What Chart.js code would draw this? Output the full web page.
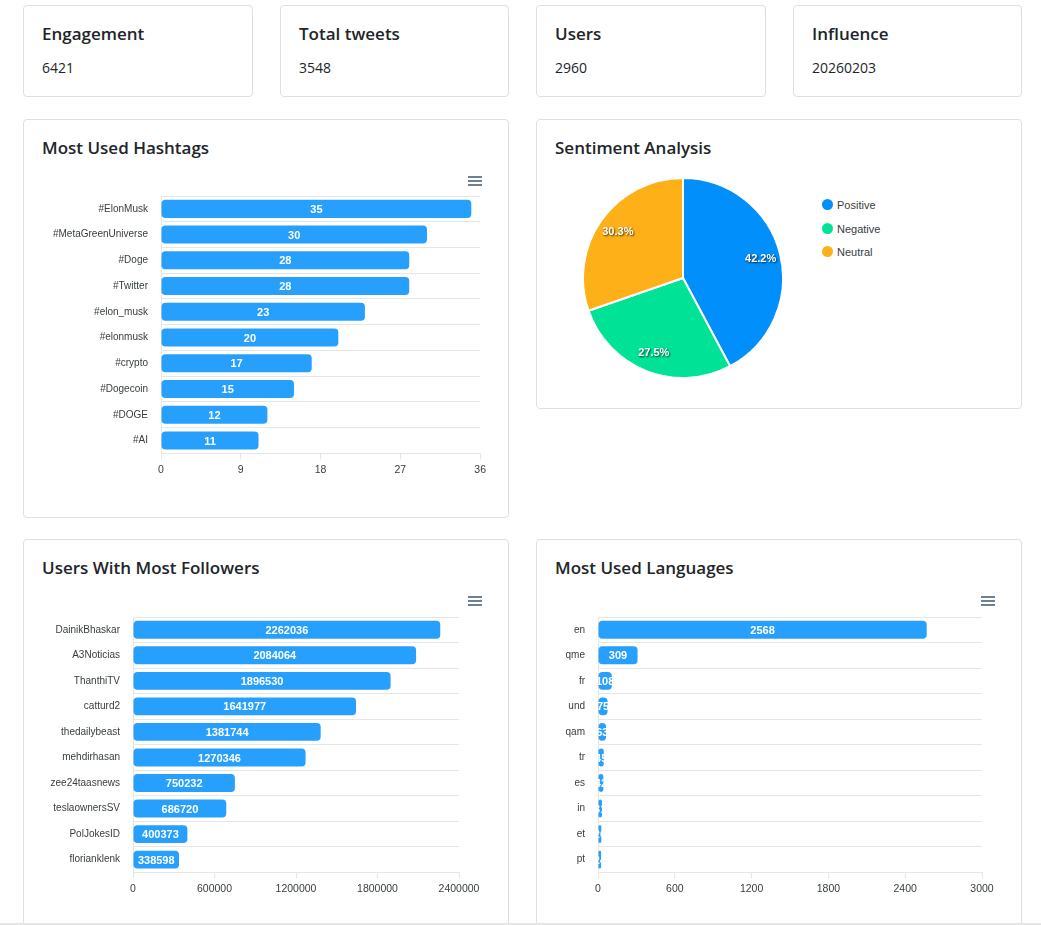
<!DOCTYPE html>
<html>
<head>
<meta charset="utf-8">
<script src="https://cdn.jsdelivr.net/npm/chart.js@4.4.1/dist/chart.umd.min.js"></script>
<style>
    body { margin: 0; background: #fff; font-family: "Open Sans", sans-serif; color: #212529; }
    .page { position: relative; width: 1041px; height: 925px; overflow: hidden; }
    .card { position: absolute; border: 1px solid #dfdfdf; border-radius: 4px; box-sizing: border-box; }
    .ttl { position: absolute; left: 18px; top: 16px; font-size: 17px; font-weight: 600; line-height: 24px; white-space: nowrap; }
    .val { position: absolute; left: 18px; top: 52px; font-size: 14px; line-height: 20px; }
    .box { position: absolute; }
    .menu { position: absolute; width: 14px; height: 10px; }
    .menu i { display: block; height: 2px; background: #6e8192; margin-bottom: 2px; }
    .legend { position: absolute; left: 822px; top: 199px; font: 11px "Liberation Sans", Arial, sans-serif; color: #373d3f; }
    .legend div { height: 23.5px; display: flex; align-items: flex-start; }
    .legend span { display: inline-block; width: 11px; height: 11px; border-radius: 50%; margin-right: 4px; margin-top: 0px; }
    .bottomline { position: absolute; left: 0; top: 923px; width: 1041px; height: 2px; background: #e6e6e6; }
</style>
</head>
<body>
<div class="page">
    <div class="card" style="left:23px;top:5px;width:230px;height:92px"><div class="ttl">Engagement</div><div class="val">6421</div></div>
    <div class="card" style="left:280px;top:5px;width:229px;height:92px"><div class="ttl">Total tweets</div><div class="val">3548</div></div>
    <div class="card" style="left:536px;top:5px;width:230px;height:92px"><div class="ttl">Users</div><div class="val">2960</div></div>
    <div class="card" style="left:793px;top:5px;width:229px;height:92px"><div class="ttl">Influence</div><div class="val">20260203</div></div>

    <div class="card" style="left:23px;top:119px;width:486px;height:399px"><div class="ttl">Most Used Hashtags</div></div>
    <div class="card" style="left:536px;top:119px;width:486px;height:290px"><div class="ttl">Sentiment Analysis</div></div>
    <div class="card" style="left:23px;top:539px;width:486px;height:400px"><div class="ttl">Users With Most Followers</div></div>
    <div class="card" style="left:536px;top:539px;width:486px;height:400px"><div class="ttl">Most Used Languages</div></div>

    <div class="menu" style="left:468px;top:176px"><i></i><i></i><i></i></div>
    <div class="menu" style="left:468px;top:596px"><i></i><i></i><i></i></div>
    <div class="menu" style="left:981px;top:596px"><i></i><i></i><i></i></div>

    <div class="box" style="left:42px;top:177px;width:448px;height:303px"><canvas id="hashtagChart"></canvas></div>
    <div class="box" style="left:582px;top:177px;width:202px;height:202px"><canvas id="sentimentChart"></canvas></div>
    <div class="legend" id="sentimentLegend"></div>
    <div class="box" style="left:42px;top:598px;width:448px;height:301px"><canvas id="followersChart"></canvas></div>
    <div class="box" style="left:555px;top:598px;width:446px;height:301px"><canvas id="languagesChart"></canvas></div>
    <div class="bottomline"></div>
</div>
<script>
// ===== DATA =====
const hashtagLabels = ['#ElonMusk', '#MetaGreenUniverse', '#Doge', '#Twitter', '#elon_musk', '#elonmusk', '#crypto', '#Dogecoin', '#DOGE', '#AI'];
const hashtagCounts = [35, 30, 28, 28, 23, 20, 17, 15, 12, 11];

const sentimentLabels = ['Positive', 'Negative', 'Neutral'];
const sentimentShares = [42.2, 27.5, 30.3];
const sentimentColors = ['#008FFB', '#00E396', '#FEB019'];

const followerUsers = ['DainikBhaskar', 'A3Noticias', 'ThanthiTV', 'catturd2', 'thedailybeast', 'mehdirhasan', 'zee24taasnews', 'teslaownersSV', 'PolJokesID', 'florianklenk'];
const followerCounts = [2262036, 2084064, 1896530, 1641977, 1381744, 1270346, 750232, 686720, 400373, 338598];

const languageCodes = ['en', 'qme', 'fr', 'und', 'qam', 'tr', 'es', 'in', 'et', 'pt'];
const languageCounts = [2568, 309, 108, 75, 63, 45, 42, 31, 26, 24];

const BAR_COLOR = 'rgba(0, 143, 251, 0.85)';
const TEXT_COLOR = '#373d3f';
const GRID_COLOR = '#e6e6e6';
const FONT = '"Liberation Sans", Arial, sans-serif';

// ===== PLUGINS =====
const barValueLabels = {
    id: 'barValueLabels',
    afterDatasetsDraw(chart) {
        const ctx = chart.ctx;
        const values = chart.data.datasets[0].data;
        ctx.save();
        ctx.fillStyle = '#fff';
        ctx.font = 'bold 11px ' + FONT;
        ctx.textAlign = 'center';
        ctx.textBaseline = 'middle';
        chart.getDatasetMeta(0).data.forEach((bar, i) => {
            ctx.fillText(values[i], (bar.x + bar.base) / 2, bar.y + 1);
        });
        ctx.restore();
    }
};

const pieValueLabels = {
    id: 'pieValueLabels',
    afterDatasetsDraw(chart) {
        const ctx = chart.ctx;
        const values = chart.data.datasets[0].data;
        ctx.save();
        ctx.fillStyle = '#fff';
        ctx.font = 'bold 11px ' + FONT;
        ctx.textAlign = 'center';
        ctx.textBaseline = 'middle';
        ctx.shadowColor = 'rgba(0,0,0,0.75)';
        ctx.shadowBlur = 2;
        ctx.shadowOffsetX = 1;
        ctx.shadowOffsetY = 1;
        chart.getDatasetMeta(0).data.forEach((arc, i) => {
            const mid = (arc.startAngle + arc.endAngle) / 2;
            const r = arc.outerRadius * 0.8;
            ctx.fillText(values[i].toFixed(1) + '%', arc.x + Math.cos(mid) * r, arc.y + Math.sin(mid) * r);
        });
        ctx.restore();
    }
};

// ===== BAR CHART HELPER =====
function createHBarChart(canvasId, labels, data, opts) {
    const ctx = document.getElementById(canvasId);
    return new Chart(ctx, {
        type: 'bar',
        data: {
            labels: labels,
            datasets: [{
                data: data,
                backgroundColor: BAR_COLOR,
                borderRadius: 4,
                borderSkipped: false,
                categoryPercentage: 1,
                barPercentage: 0.7
            }]
        },
        options: {
            indexAxis: 'y',
            responsive: true,
            maintainAspectRatio: false,
            animation: false,
            layout: { padding: { top: 5, right: opts.padRight, bottom: 0, left: 0 } },
            plugins: { legend: { display: false }, tooltip: { enabled: false } },
            scales: {
                x: {
                    min: 0,
                    max: opts.max,
                    ticks: {
                        stepSize: opts.step,
                        color: TEXT_COLOR,
                        font: { family: FONT, size: 10.5 },
                        padding: 4,
                        maxRotation: 0,
                        callback: (value) => String(value)
                    },
                    grid: { drawOnChartArea: false, drawTicks: true, tickLength: 6, color: GRID_COLOR },
                    border: { color: GRID_COLOR }
                },
                y: {
                    ticks: { color: TEXT_COLOR, font: { family: FONT, size: 10 }, padding: 13 },
                    grid: { color: GRID_COLOR, drawTicks: false },
                    border: { color: GRID_COLOR },
                    afterFit: (scale) => { scale.width = opts.axisWidth; }
                }
            }
        },
        plugins: [barValueLabels]
    });
}

// ===== INIT =====
function initDashboard() {
    createHBarChart('hashtagChart', hashtagLabels, hashtagCounts, { max: 36, step: 9, padRight: 9, axisWidth: 119 });
    createHBarChart('followersChart', followerUsers, followerCounts, { max: 2400000, step: 600000, padRight: 31, axisWidth: 91 });
    createHBarChart('languagesChart', languageCodes, languageCounts, { max: 3000, step: 600, padRight: 19, axisWidth: 43 });

    new Chart(document.getElementById('sentimentChart'), {
        type: 'pie',
        data: {
            labels: sentimentLabels,
            datasets: [{
                data: sentimentShares,
                backgroundColor: sentimentColors,
                borderColor: '#fff',
                borderWidth: 2
            }]
        },
        options: {
            responsive: true,
            maintainAspectRatio: false,
            animation: false,
            plugins: { legend: { display: false }, tooltip: { enabled: false } }
        },
        plugins: [pieValueLabels]
    });

    // legend as html
    const legend = document.getElementById('sentimentLegend');
    sentimentLabels.forEach((label, i) => {
        const row = document.createElement('div');
        row.innerHTML = '<span style="background:' + sentimentColors[i] + '"></span>' + label;
        legend.appendChild(row);
    });
}

initDashboard();
</script>
</body>
</html>
